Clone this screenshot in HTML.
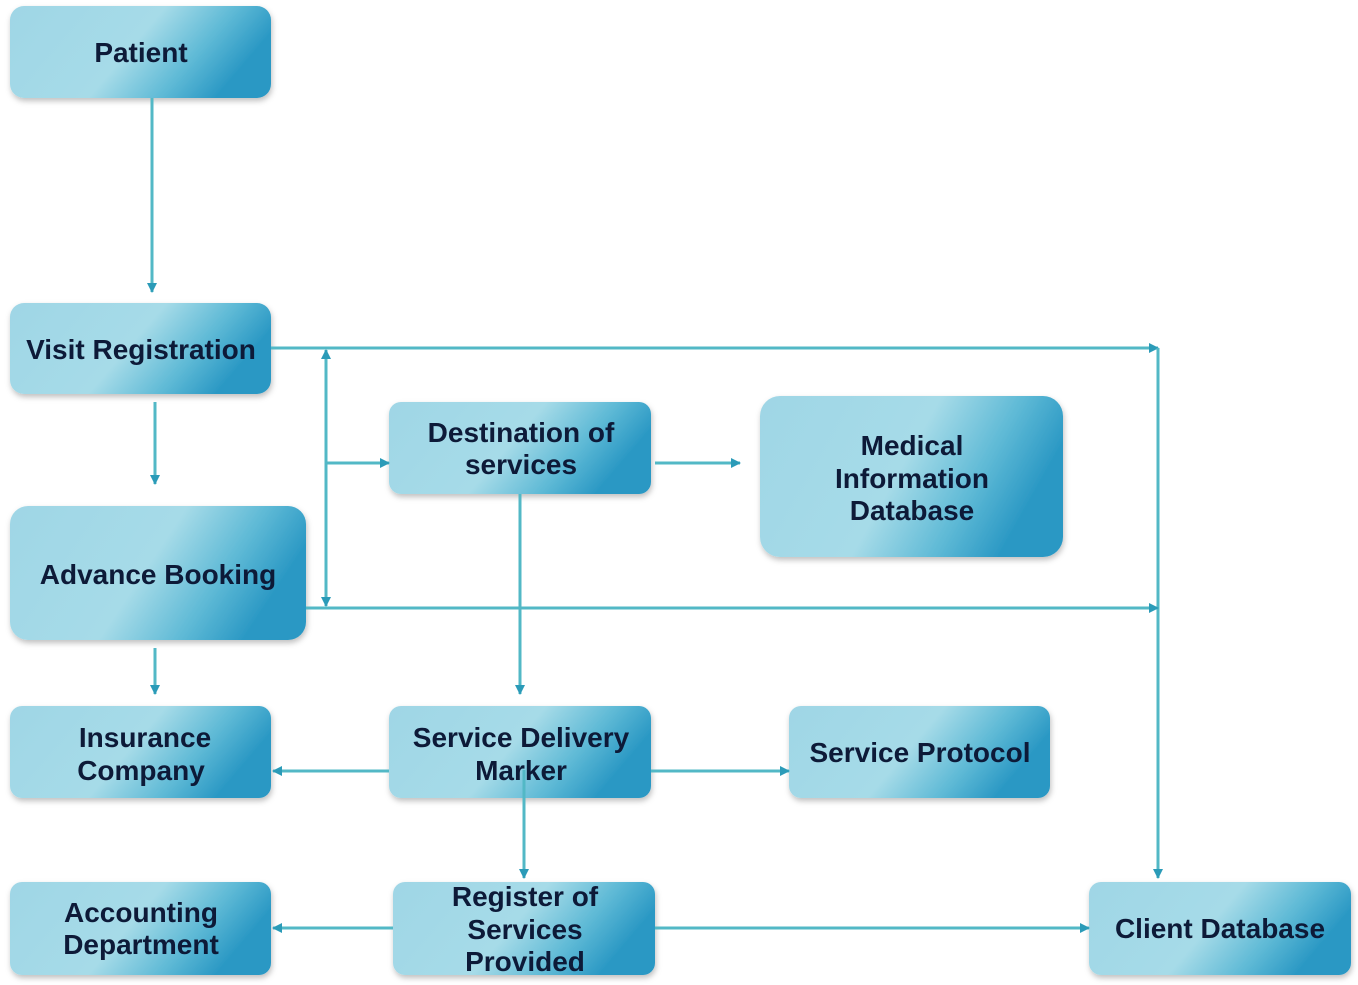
<!DOCTYPE html><html><head><style>body{margin:0;background:#fff}svg{display:block}text{font-family:"Liberation Sans",sans-serif;font-weight:bold;fill:#0d1a38;font-size:28px;text-anchor:middle}</style></head><body>
<svg width="1358" height="985" viewBox="0 0 1358 985">
<defs>
<linearGradient id="g" x1="0" y1="0" x2="1" y2="0.3"><stop offset="0" stop-color="#9fd6e6"/><stop offset="0.55" stop-color="#a6dbe8"/><stop offset="0.8" stop-color="#5fbad6"/><stop offset="1" stop-color="#2a98c4"/></linearGradient>
<filter id="s"><feDropShadow dx="1" dy="3" stdDeviation="3" flood-color="#000" flood-opacity="0.25"/></filter>
<marker id="a" markerWidth="10" markerHeight="10" refX="9" refY="5" orient="auto" markerUnits="userSpaceOnUse"><path d="M0,0 L10,5 L0,10 z" fill="#2b9bb8"/></marker>
</defs>
<g fill="url(#g)" filter="url(#s)">
<rect x="10" y="6" width="261" height="92" rx="14"/>
<rect x="10" y="303" width="261" height="91" rx="14"/>
<rect x="10" y="506" width="296" height="134" rx="18"/>
<rect x="10" y="706" width="261" height="92" rx="12"/>
<rect x="10" y="882" width="261" height="93" rx="12"/>
<rect x="389" y="402" width="262" height="92" rx="12"/>
<rect x="760" y="396" width="303" height="161" rx="20"/>
<rect x="389" y="706" width="262" height="92" rx="12"/>
<rect x="789" y="706" width="261" height="92" rx="12"/>
<rect x="393" y="882" width="262" height="93" rx="12"/>
<rect x="1089" y="882" width="262" height="93" rx="12"/>
</g>
<g stroke="#52b8c6" stroke-width="3" fill="none" marker-end="url(#a)">
<path d="M152,98 V292"/>
<path d="M271,348 H1158"/>
<path d="M1158,348 V878"/>
<path d="M306,608 H1158"/>
<path d="M326,470 V350"/>
<path d="M326,470 V606"/>
<path d="M326,463 H389"/>
<path d="M655,463 H740"/>
<path d="M155,402 V484"/>
<path d="M155,648 V694"/>
<path d="M520,494 V694"/>
<path d="M389,771 H273"/>
<path d="M651,771 H789"/>
<path d="M524,770 V878"/>
<path d="M393,928 H273"/>
<path d="M655,928 H1089"/>
</g>
<text x="141" y="62">Patient</text>
<text x="141" y="359">Visit Registration</text>
<text x="158" y="584">Advance Booking</text>
<text x="145" y="747">Insurance</text><text x="141" y="780">Company</text>
<text x="141" y="922">Accounting</text><text x="141" y="954">Department</text>
<text x="521" y="442">Destination of</text><text x="521" y="474">services</text>
<text x="912" y="455">Medical</text><text x="912" y="488">Information</text><text x="912" y="520">Database</text>
<text x="521" y="747">Service Delivery</text><text x="521" y="780">Marker</text>
<text x="920" y="762">Service Protocol</text>
<text x="525" y="906">Register of</text><text x="525" y="939">Services</text><text x="525" y="971">Provided</text>
<text x="1220" y="938">Client Database</text>
</svg></body></html>
